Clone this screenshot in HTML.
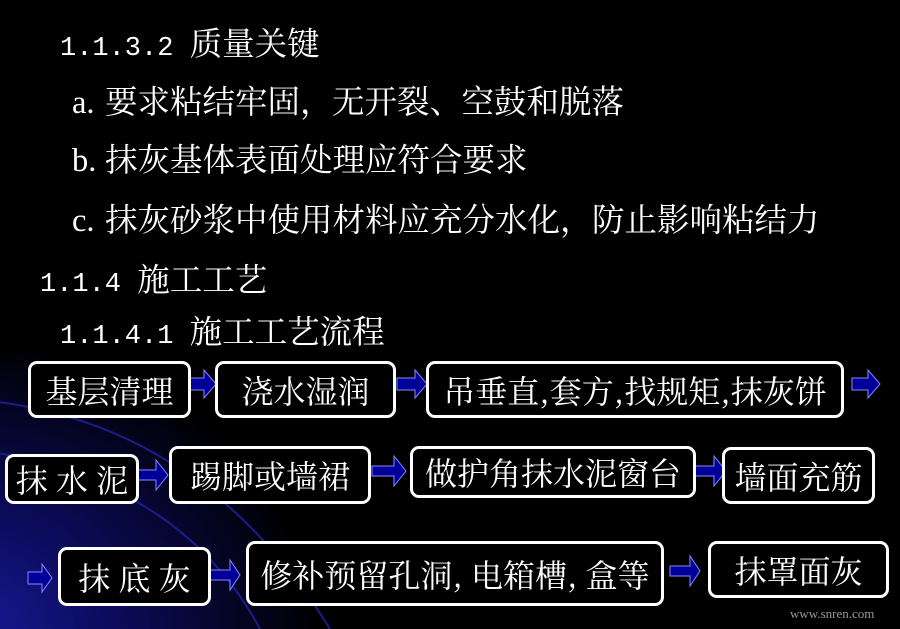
<!DOCTYPE html>
<html><head><meta charset="utf-8"><style>
html,body{margin:0;padding:0}
body{width:900px;height:629px;overflow:hidden;position:relative;background:#000;
font-family:"Noto Serif CJK SC","WenQuanYi Zen Hei",serif;color:#fff}
.bg{position:absolute;left:0;top:0;width:900px;height:629px;
background:radial-gradient(ellipse 360px 300px at -40px 640px,#1a1a9a 0%,#0c0c60 40%,rgba(0,0,0,0) 100%)}
.t{position:absolute;font-size:32.5px;line-height:36px;white-space:pre}
.m{font-family:"Liberation Mono",monospace;font-size:27px}
.l{font-family:"Liberation Serif",serif;display:inline-block;width:33px}
.f{display:inline-block;width:32px}
.b{position:absolute;border:3px solid #fff;border-radius:9px;box-sizing:border-box;background:#000;
display:flex;align-items:center;justify-content:center;font-size:32px;white-space:pre;
font-family:"Noto Serif CJK SC","WenQuanYi Zen Hei",serif}
svg{position:absolute;left:0;top:0}
</style></head><body>
<div class="bg"></div>
<svg width="900" height="629">
<path d="M-20 400 Q200 420 330 629" stroke="#1c1c8a" stroke-width="2" fill="none"/>
<path d="M-20 450 Q180 480 260 629" stroke="#1c1c8a" stroke-width="2" fill="none"/>
<g fill="#000099" stroke="#8888ff" stroke-width="1">
<path d="M190 378 h14 v-8 l12 14 l-12 14 v-8 h-14z"/>
<path d="M397 378 h18 v-8 l12 14 l-12 14 v-8 h-18z"/>
<path d="M852 378 h16 v-8 l12 14 l-12 14 v-8 h-16z"/>
<path d="M138 470 h18 v-10 l12 15 l-12 15 v-10 h-18z"/>
<path d="M372 466 h22 v-10 l12 15 l-12 15 v-10 h-22z"/>
<path d="M694 466 h20 v-10 l12 15 l-12 15 v-10 h-20z"/>
<path d="M28 572 h14 v-8 l10 14 l-10 14 v-8 h-14z"/>
<path d="M210 570 h20 v-10 l10 15 l-10 15 v-10 h-20z"/>
<path d="M670 566 h20 v-10 l10 15 l-10 15 v-10 h-20z"/>
</g>
</svg>
<div class="t" style="left:60px;top:24px"><span class="m">1.1.3.2 </span>质量关键</div>
<div class="t" style="left:72px;top:82px"><span class="l">a.</span>要求粘结牢固<span class="f">，</span>无开裂<span class="f">、</span>空鼓和脱落</div>
<div class="t" style="left:72px;top:140px"><span class="l">b.</span>抹灰基体表面处理应符合要求</div>
<div class="t" style="left:72px;top:200px"><span class="l">c.</span>抹灰砂浆中使用材料应充分水化<span class="f">，</span>防止影响粘结力</div>
<div class="t" style="left:40px;top:260px"><span class="m">1.1.4 </span>施工工艺</div>
<div class="t" style="left:60px;top:312px"><span class="m">1.1.4.1 </span>施工工艺流程</div>

<div class="b" style="left:28px;top:361px;width:163px;height:57px">基层清理</div>
<div class="b" style="left:215px;top:361px;width:181px;height:57px">浇水湿润</div>
<div class="b" style="left:426px;top:361px;width:418px;height:57px">吊垂直,套方,找规矩,抹灰饼</div>
<div class="b" style="left:5px;top:454px;width:134px;height:50px">抹 水 泥</div>
<div class="b" style="left:169px;top:446px;width:202px;height:58px">踢脚或墙裙</div>
<div class="b" style="left:410px;top:446px;width:286px;height:52px">做护角抹水泥窗台</div>
<div class="b" style="left:722px;top:447px;width:153px;height:57px">墙面充筋</div>
<div class="b" style="left:58px;top:547px;width:153px;height:59px">抹 底 灰</div>
<div class="b" style="left:246px;top:541px;width:418px;height:65px">修补预留孔洞, 电箱槽, 盒等</div>
<div class="b" style="left:708px;top:541px;width:181px;height:57px">抹罩面灰</div>
<div style="position:absolute;left:790px;top:606px;font-size:13px;color:#999;font-family:'Liberation Serif',serif">www.snren.com</div>
</body></html>
